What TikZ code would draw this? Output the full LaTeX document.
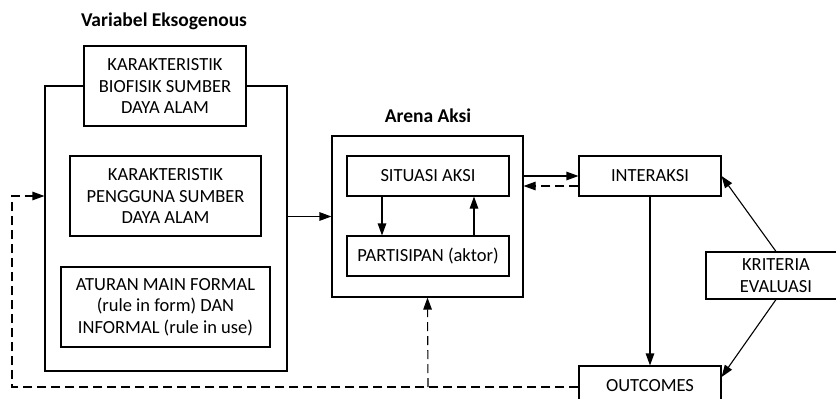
\documentclass[tikz,border=0pt]{standalone}
\usepackage{fontspec}
\setmainfont{Carlito}
\usepackage{tikz}
\usetikzlibrary{arrows.meta}
\usetikzlibrary{positioning}

\begin{document}
\begin{tikzpicture}[
  x=1pt, y=-1pt,
  box/.style={draw, line width=1.1pt, fill=white, align=center, inner sep=0pt,
    font=\fontsize{18.5}{21.5}\selectfont},
  ttl/.style={font=\fontsize{19.5}{22}\selectfont\bfseries},
  arr/.style={-{Triangle[length=12pt,width=8.5pt]}, line width=1.1pt},
  darr/.style={arr, dash pattern=on 9pt off 5pt}
]
\useasboundingbox (0,0) rectangle (836,399);

%% Variabel eksogen
\node[ttl] (exottl) at (164,21) {Variabel Eksogenous};
\node[draw, line width=1.1pt, minimum width=242pt, minimum height=285pt] (exo) at (166,228.5) {};
\node[box, minimum width=162pt, minimum height=80pt] (bio) at (165,86)
  {KARAKTERISTIK\\BIOFISIK SUMBER\\DAYA ALAM};
\node[box, minimum width=191pt, minimum height=80pt] (user) at (165.5,196)
  {KARAKTERISTIK\\PENGGUNA SUMBER\\DAYA ALAM};
\node[box, minimum width=209pt, minimum height=80pt] (rule) at (165.5,307)
  {ATURAN MAIN FORMAL\\(rule in form) DAN\\INFORMAL (rule in use)};

%% Arena aksi
\node[ttl] (arenattl) at (428,116) {Arena Aksi};
\node[draw, line width=1.1pt, minimum width=191pt, minimum height=161pt] (arena) at (427.5,216.5) {};
\node[box, minimum width=162pt, minimum height=40pt] (sit) at (428,176) {SITUASI AKSI};
\node[box, minimum width=162pt, minimum height=40pt] (part) at (428,256) {PARTISIPAN (aktor)};

\draw[arr] ([xshift=-46pt]sit.south) -- ([xshift=-46pt]part.north);
\draw[arr] ([xshift=46pt]part.north) -- ([xshift=46pt]sit.south);

%% Kanan
\node[box, minimum width=142pt, minimum height=40pt] (inter) at (650,176) {INTERAKSI};
\node[box, minimum width=142pt, minimum height=40pt] (out) at (650,386) {OUTCOMES};
\node[box, minimum width=140pt, minimum height=47pt] (krit) at (776,275.5) {KRITERIA\\EVALUASI};

\draw[arr] (arena.west -| exo.east) -- (arena.west);
\draw[arr] (inter.west -| arena.east) -- (inter.west);
\draw[darr] ([yshift=-10pt]inter.west) -- ([yshift=-10pt]inter.west -| arena.east);
\draw[arr] (inter.south) -- (out.north);
\draw[arr] (krit.north) -- (inter.east);
\draw[arr] (krit.south) -- ([yshift=9pt]out.east);

%% Umpan balik
\coordinate (fbl) at (12,387);
\coordinate (fbm) at (428,387);
\draw[darr] ([yshift=-1pt]out.west) -- (fbl) |- (user.center -| exo.west);
\draw[darr] (fbm) -- (arena.south);
\end{tikzpicture}
\end{document}
